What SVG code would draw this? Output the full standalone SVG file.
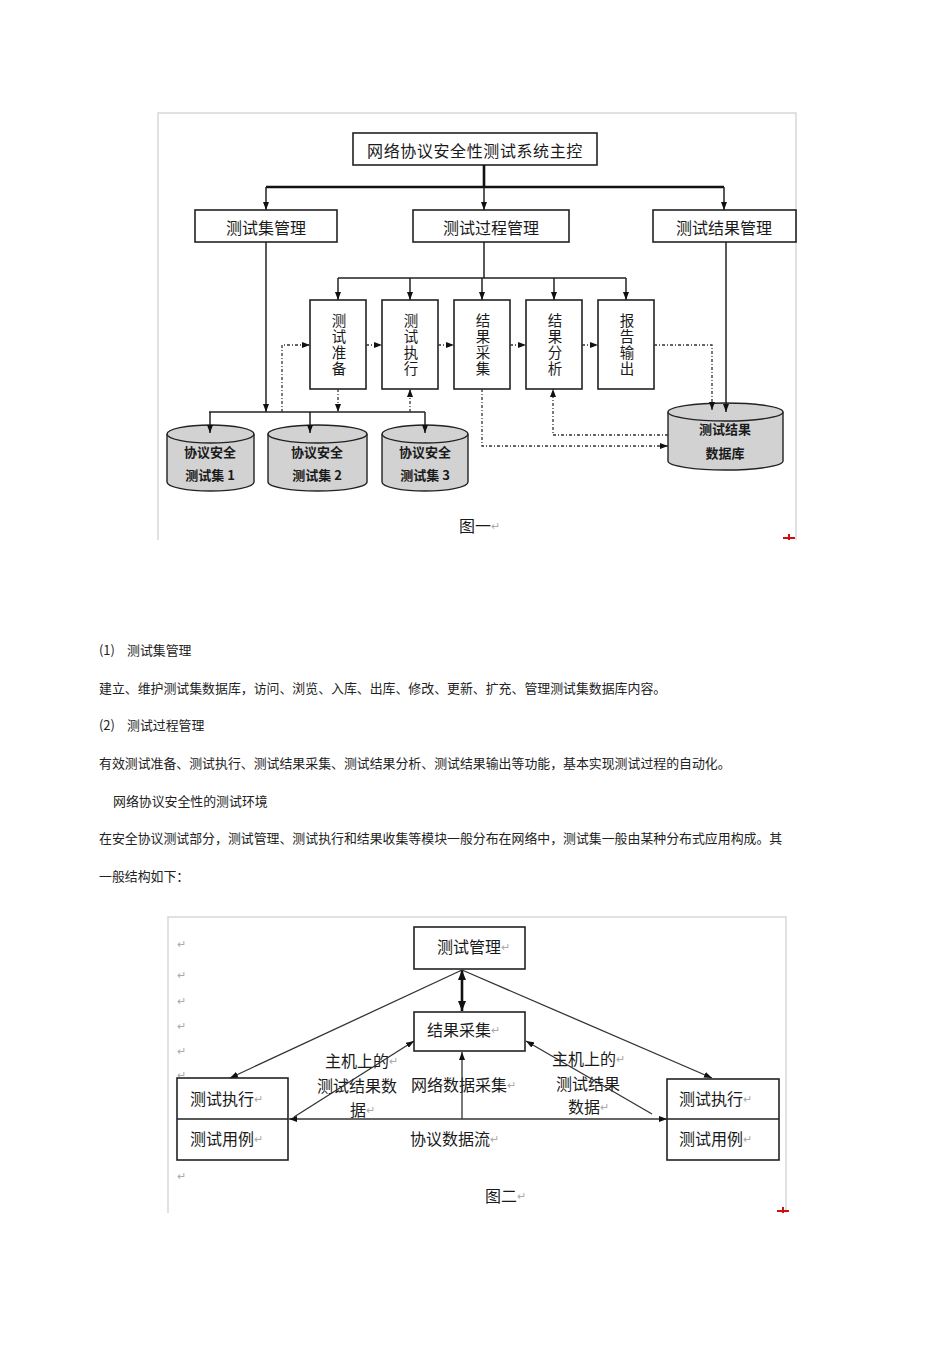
<svg xmlns="http://www.w3.org/2000/svg" width="950" height="1346" viewBox="0 0 950 1346">
<style>
text{font-family:"Noto Sans CJK SC","Noto Sans",sans-serif;fill:#1a1a1a;dominant-baseline:central}
.box{fill:#fff;stroke:#222;stroke-width:1.6}
.cyl{fill:#d2d2d2;stroke:#222;stroke-width:1.4}
.ln{fill:none;stroke:#222;stroke-width:1.5}
.thk{fill:none;stroke:#111;stroke-width:2.6}
.dot{fill:none;stroke:#333;stroke-width:1.3;stroke-dasharray:3 2 1 2}
.ln2{fill:none;stroke:#333;stroke-width:1.3}
.frame{fill:none;stroke:#d8d8d8;stroke-width:1.5}
.t16{font-size:16px}
.vt{font-size:14.5px;writing-mode:vertical-rl;letter-spacing:1.5px}
.t13{font-size:13px;font-weight:bold}
.p{font-size:12.9px;fill:#222}
.ret{fill:#aaa;font-size:11px}
.red{stroke:#d01010;stroke-width:2}
</style>
<defs>
<marker id="a" viewBox="0 0 8 6" refX="8" refY="3" markerWidth="8" markerHeight="6" markerUnits="userSpaceOnUse" orient="auto-start-reverse"><path d="M0,0L8,3L0,6z" fill="#111"/></marker>
<marker id="b" viewBox="0 0 10 8" refX="10" refY="4" markerWidth="10" markerHeight="8" markerUnits="userSpaceOnUse" orient="auto-start-reverse"><path d="M0,0L10,4L0,8z" fill="#111"/></marker>
</defs>

<!-- Figure 1 frame -->
<path class="frame" d="M158,540V113H796V540"/>
<path class="red" d="M783,538H795M789,534V540"/>

<g id="main"><rect class="box" x="353" y="133" width="244" height="32"/><text class="t16" x="475" y="150" text-anchor="middle" letter-spacing="0.6">网络协议安全性测试系统主控</text></g>
<g id="setmgr"><rect class="box" x="195" y="210" width="142" height="32"/><text class="t16" x="266" y="227" text-anchor="middle">测试集管理</text></g>
<g id="procmgr"><rect class="box" x="413" y="210" width="156" height="32"/><text class="t16" x="491" y="227" text-anchor="middle">测试过程管理</text></g>
<g id="resmgr"><rect class="box" x="653" y="210" width="143" height="32"/><text class="t16" x="724" y="227" text-anchor="middle">测试结果管理</text></g>

<g id="prep"><rect class="box" x="310" y="300" width="56" height="89"/><text class="vt" x="339" y="345" text-anchor="middle">测试准备</text></g>
<g id="exec"><rect class="box" x="382" y="300" width="56" height="89"/><text class="vt" x="411" y="345" text-anchor="middle">测试执行</text></g>
<g id="collect"><rect class="box" x="454" y="300" width="56" height="89"/><text class="vt" x="483" y="345" text-anchor="middle">结果采集</text></g>
<g id="analyze"><rect class="box" x="526" y="300" width="56" height="89"/><text class="vt" x="555" y="345" text-anchor="middle">结果分析</text></g>
<g id="report"><rect class="box" x="598" y="300" width="56" height="89"/><text class="vt" x="627" y="345" text-anchor="middle">报告输出</text></g>

<g id="cyl1"><path class="cyl" d="M167,434A43.5,9 0 0 1 254,434V482A43.5,9 0 0 1 167,482Z"/><path class="cyl" d="M167,434A43.5,9 0 0 0 254,434" fill="none"/><text class="t13" x="210" y="451" text-anchor="middle">协议安全</text><text class="t13" x="210" y="474" text-anchor="middle">测试集 1</text></g>
<g id="cyl2"><path class="cyl" d="M268,434A49.5,9 0 0 1 367,434V482A49.5,9 0 0 1 268,482Z"/><path class="cyl" d="M268,434A49.5,9 0 0 0 367,434" fill="none"/><text class="t13" x="317" y="451" text-anchor="middle">协议安全</text><text class="t13" x="317" y="474" text-anchor="middle">测试集 2</text></g>
<g id="cyl3"><path class="cyl" d="M382,434A43,9 0 0 1 468,434V482A43,9 0 0 1 382,482Z"/><path class="cyl" d="M382,434A43,9 0 0 0 468,434" fill="none"/><text class="t13" x="425" y="451" text-anchor="middle">协议安全</text><text class="t13" x="425" y="474" text-anchor="middle">测试集 3</text></g>
<g id="resdb"><path class="cyl" d="M668,412A57.5,9 0 0 1 783,412V461A57.5,9 0 0 1 668,461Z"/><path class="cyl" d="M668,412A57.5,9 0 0 0 783,412" fill="none"/><text class="t13" x="725" y="428" text-anchor="middle">测试结果</text><text class="t13" x="725" y="452" text-anchor="middle">数据库</text></g>

<g id="cap1"><text class="t16" x="459" y="525">图一<tspan class="ret">↵</tspan></text></g>

<g id="connectors1">
<path class="thk" d="M484,165V187M266,187H724"/>
<path class="ln" d="M266,187V210" marker-end="url(#a)"/>
<path class="ln" d="M484,187V210" marker-end="url(#a)"/>
<path class="ln" d="M724,187V210" marker-end="url(#a)"/>
<path class="ln" d="M266,242V412" marker-end="url(#a)"/>
<path class="ln" d="M209,412H425"/>
<path class="ln" d="M210,412V433" marker-end="url(#a)"/>
<path class="ln" d="M310,412V433" marker-end="url(#a)"/>
<path class="ln" d="M425,412V433" marker-end="url(#a)"/>
<path class="ln" d="M484,242V278M338,278H626"/>
<path class="ln" d="M338,278V300" marker-end="url(#a)"/>
<path class="ln" d="M410,278V300" marker-end="url(#a)"/>
<path class="ln" d="M482,278V300" marker-end="url(#a)"/>
<path class="ln" d="M554,278V300" marker-end="url(#a)"/>
<path class="ln" d="M626,278V300" marker-end="url(#a)"/>
<path class="ln" d="M726,242V412" marker-end="url(#a)"/>
<path class="dot" d="M654,345H712V410" marker-end="url(#a)"/>
<path class="dot" d="M366,345H382" marker-end="url(#a)"/>
<path class="dot" d="M438,345H454" marker-end="url(#a)"/>
<path class="dot" d="M510,345H526" marker-end="url(#a)"/>
<path class="dot" d="M582,345H598" marker-end="url(#a)"/>
<path class="dot" d="M282,412V345H310" marker-end="url(#a)"/>
<path class="dot" d="M338,389V412" marker-end="url(#a)"/>
<path class="dot" d="M410,412V389" marker-end="url(#a)"/>
<path class="dot" d="M482,389V446H668" marker-end="url(#a)"/>
<path class="dot" d="M668,435H553V389" marker-end="url(#a)"/>
</g>

<!-- Body text -->
<g id="body">
<text class="p" x="99" y="649">(1)<tspan x="127">测试集管理</tspan></text>
<text class="p" x="99" y="687">建立、维护测试集数据库，访问、浏览、入库、出库、修改、更新、扩充、管理测试集数据库内容。</text>
<text class="p" x="99" y="724">(2)<tspan x="127">测试过程管理</tspan></text>
<text class="p" x="99" y="762">有效测试准备、测试执行、测试结果采集、测试结果分析、测试结果输出等功能，基本实现测试过程的自动化。</text>
<text class="p" x="113" y="800">网络协议安全性的测试环境</text>
<text class="p" x="99" y="837">在安全协议测试部分，测试管理、测试执行和结果收集等模块一般分布在网络中，测试集一般由某种分布式应用构成。其</text>
<text class="p" x="99" y="875">一般结构如下：</text>
</g>

<!-- Figure 2 -->
<path class="frame" d="M168,1213V917H786V1213"/>
<path class="red" d="M777,1211H789M783,1207V1213"/>
<g id="marks"><text class="ret" x="177" y="943">↵</text><text class="ret" x="177" y="974">↵</text><text class="ret" x="177" y="1000">↵</text><text class="ret" x="177" y="1025">↵</text><text class="ret" x="177" y="1050">↵</text><text class="ret" x="177" y="1074">↵</text><text class="ret" x="177" y="1175">↵</text></g>

<g id="mgr"><rect class="box" x="414" y="927" width="111" height="42"/><text class="t16" x="437" y="946">测试管理<tspan class="ret">↵</tspan></text></g>
<g id="coll"><rect class="box" x="414" y="1012" width="111" height="39"/><text class="t16" x="427" y="1029">结果采集<tspan class="ret">↵</tspan></text></g>
<g id="hostL"><rect class="box" x="177" y="1078" width="111" height="82"/><path class="ln" d="M177,1119H288"/><text class="t16" x="190" y="1098">测试执行<tspan class="ret">↵</tspan></text><text class="t16" x="190" y="1138">测试用例<tspan class="ret">↵</tspan></text></g>
<g id="hostR"><rect class="box" x="667" y="1079" width="112" height="81"/><path class="ln" d="M667,1119H779"/><text class="t16" x="679" y="1098">测试执行<tspan class="ret">↵</tspan></text><text class="t16" x="679" y="1138">测试用例<tspan class="ret">↵</tspan></text></g>

<g id="labels2">
<text class="t16" x="325" y="1060">主机上的<tspan class="ret">↵</tspan></text>
<text class="t16" x="317" y="1085">测试结果数</text>
<text class="t16" x="350" y="1109">据<tspan class="ret">↵</tspan></text>
<text class="t16" x="411" y="1084">网络数据采集<tspan class="ret">↵</tspan></text>
<text class="t16" x="410" y="1138">协议数据流<tspan class="ret">↵</tspan></text>
<text class="t16" x="552" y="1058">主机上的<tspan class="ret">↵</tspan></text>
<text class="t16" x="556" y="1083">测试结果</text>
<text class="t16" x="568" y="1106">数据<tspan class="ret">↵</tspan></text>
<text class="t16" x="485" y="1195">图二<tspan class="ret">↵</tspan></text>
</g>

<g id="connectors2">
<path class="thk" d="M462,970V1011" stroke-width="2.2" marker-start="url(#b)" marker-end="url(#b)"/>
<path class="ln2" d="M462,970L230,1078" marker-end="url(#a)"/>
<path class="ln2" d="M462,970L712,1078" marker-end="url(#a)"/>
<path class="ln2" d="M294,1117L414,1041" marker-end="url(#a)"/>
<path class="ln2" d="M652,1114L526,1041" marker-end="url(#a)"/>
<path class="ln2" d="M289,1119H667" marker-start="url(#a)" marker-end="url(#a)"/>
<path class="ln2" d="M462,1119V1052" marker-end="url(#a)"/>
</g>
</svg>
